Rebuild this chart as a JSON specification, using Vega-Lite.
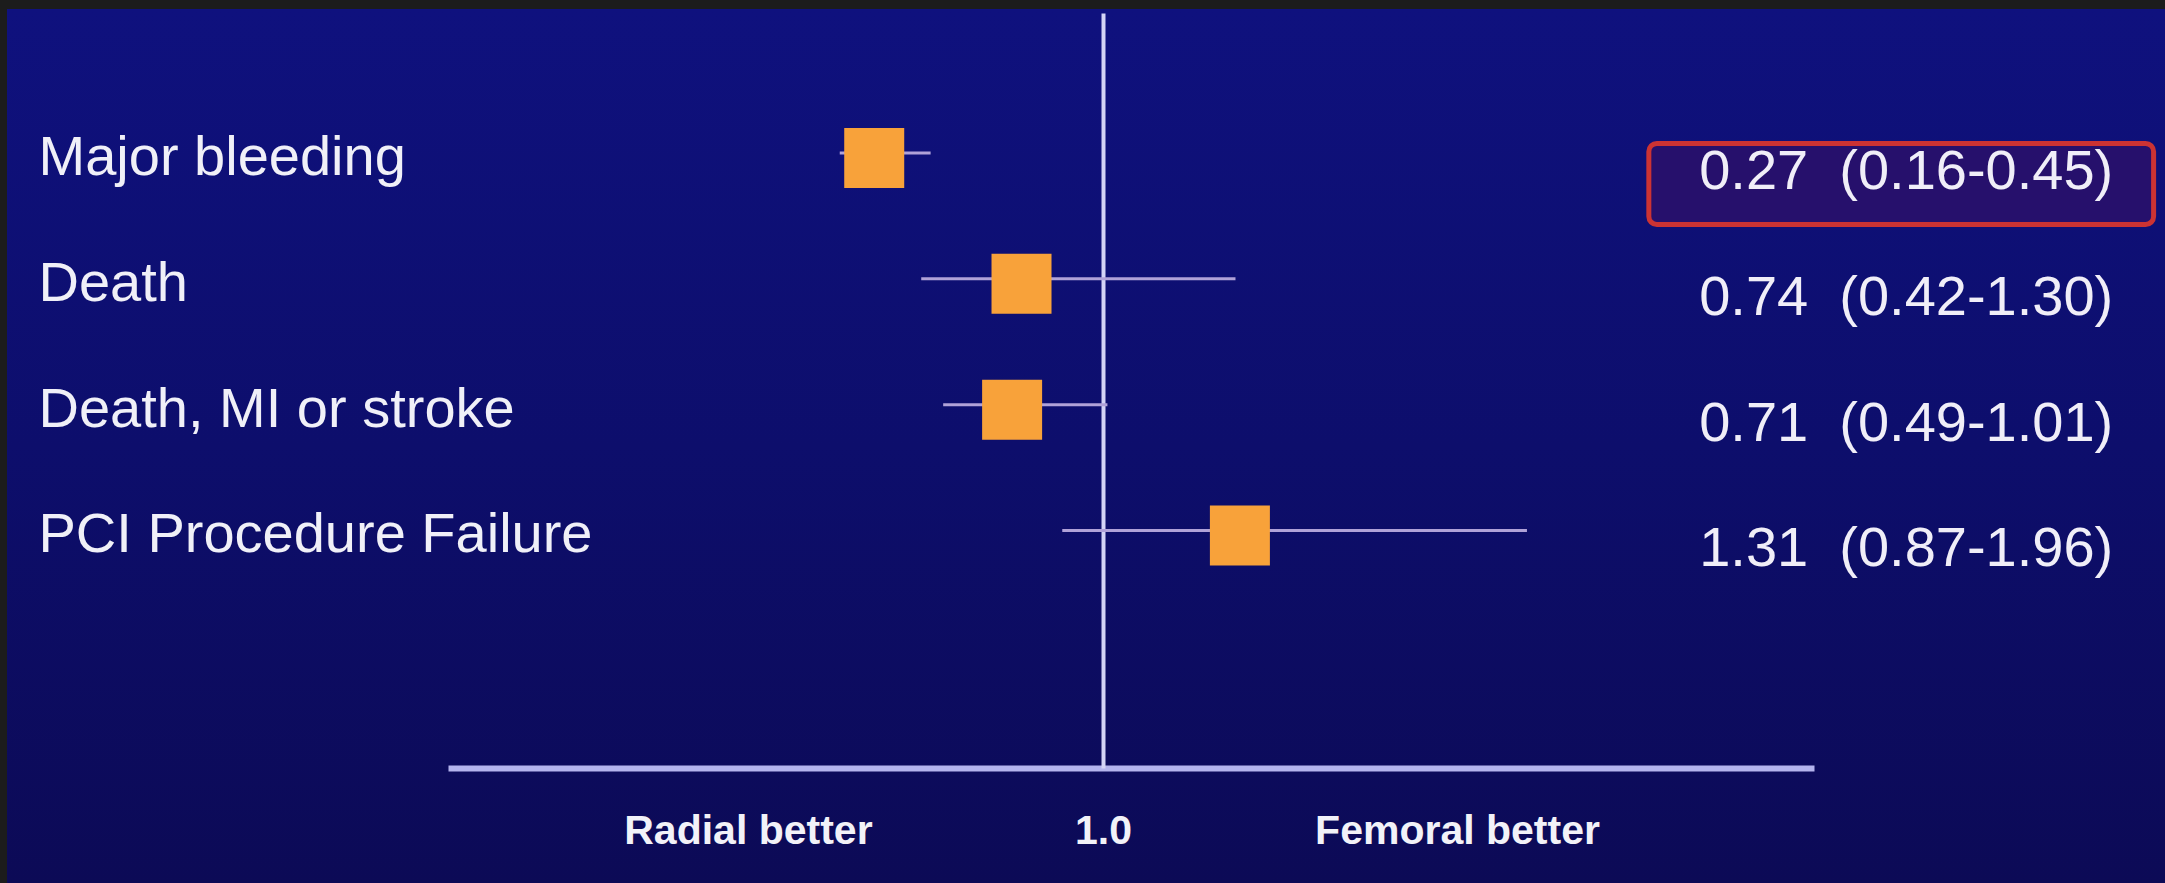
{
  "$schema": "https://vega.github.io/schema/vega-lite/v6.json",
  "width": 2158,
  "height": 874,
  "autosize": {"type": "none"},
  "padding": {"left": 7, "top": 9, "right": 0, "bottom": 0},
  "background": "#1c1c1c",
  "config": {
    "view": {
      "stroke": null,
      "fill": {
        "gradient": "linear",
        "x1": 0, "y1": 0, "x2": 0, "y2": 1,
        "stops": [
          {"offset": 0, "color": "#0f117e"},
          {"offset": 0.5, "color": "#0d0e6c"},
          {"offset": 1, "color": "#0c0a56"}
        ]
      }
    }
  },
  "data": {
    "values": [
      {"order": 1, "outcome": "Major bleeding", "hr": 0.27, "lower": 0.16, "upper": 0.45, "estimate": "0.27\u00a0 (0.16-0.45)"},
      {"order": 2, "outcome": "Death", "hr": 0.74, "lower": 0.42, "upper": 1.30, "estimate": "0.74\u00a0 (0.42-1.30)"},
      {"order": 3, "outcome": "Death, MI or stroke", "hr": 0.71, "lower": 0.49, "upper": 1.01, "estimate": "0.71\u00a0 (0.49-1.01)"},
      {"order": 4, "outcome": "PCI Procedure Failure", "hr": 1.31, "lower": 0.87, "upper": 1.96, "estimate": "1.31\u00a0 (0.87-1.96)"}
    ]
  },
  "encoding": {
    "y": {
      "field": "outcome",
      "type": "nominal",
      "sort": ["Major bleeding", "Death", "Death, MI or stroke", "PCI Procedure Failure"],
      "scale": {"type": "band", "range": [4, 759], "paddingInner": 0, "paddingOuter": 1, "align": 0.326},
      "axis": {
        "orient": "left",
        "offset": -1096,
        "title": null,
        "domain": true,
        "domainColor": "#d4d4f6",
        "domainWidth": 4,
        "ticks": false,
        "tickSize": 0,
        "grid": false,
        "labelAlign": "left",
        "labelBaseline": "middle",
        "labelPadding": 1065,
        "labelFont": "Liberation Sans",
        "labelFontSize": 56,
        "labelColor": "#f0f0f8",
        "labelLimit": 2000
      }
    }
  },
  "layer": [
    {
      "mark": {"type": "rule", "stroke": "#b0a2d8", "strokeWidth": 3, "yOffset": -5},
      "encoding": {
        "x": {
          "field": "lower",
          "type": "quantitative",
          "scale": {"type": "linear", "domain": [-1.09, 1, 2.61], "range": [441, 1096, 1807], "zero": false, "nice": false},
          "axis": {
            "orient": "bottom",
            "offset": -115,
            "title": null,
            "values": [-0.133, 1, 1.8016],
            "labelExpr": "datum.value < 0.5 ? 'Radial better' : (datum.value > 1.5 ? 'Femoral better' : '1.0')",
            "domain": true,
            "domainColor": "#b4b4ee",
            "domainWidth": 6,
            "ticks": false,
            "tickSize": 0,
            "grid": false,
            "labelFont": "Liberation Sans",
            "labelFontWeight": "bold",
            "labelFontSize": 41,
            "labelColor": "#f2f2f8",
            "labelPadding": 75,
            "labelBaseline": "alphabetic",
            "labelAlign": "center",
            "labelFlush": false,
            "labelOverlap": false,
            "labelBound": false,
            "labelLimit": 1000
          }
        },
        "x2": {"field": "upper"}
      }
    },
    {
      "mark": {"type": "point", "shape": "square", "size": 3600, "filled": true, "color": "#f8a23a", "opacity": 1, "strokeWidth": 0},
      "encoding": {
        "x": {"field": "hr", "type": "quantitative"}
      }
    },
    {
      "transform": [{"filter": "datum.outcome === 'Major bleeding'"}],
      "mark": {"type": "rect", "height": 81, "yOffset": 26, "cornerRadius": 8, "fill": "#26106c", "stroke": "#cc3333", "strokeWidth": 5},
      "encoding": {
        "x": {"datum": 2.236},
        "x2": {"datum": 3.379}
      }
    },
    {
      "mark": {"type": "text", "align": "left", "baseline": "middle", "dy": 14, "font": "Liberation Sans", "fontSize": 56, "color": "#f0eef8"},
      "encoding": {
        "x": {"datum": 2.35},
        "text": {"field": "estimate"}
      }
    }
  ]
}
